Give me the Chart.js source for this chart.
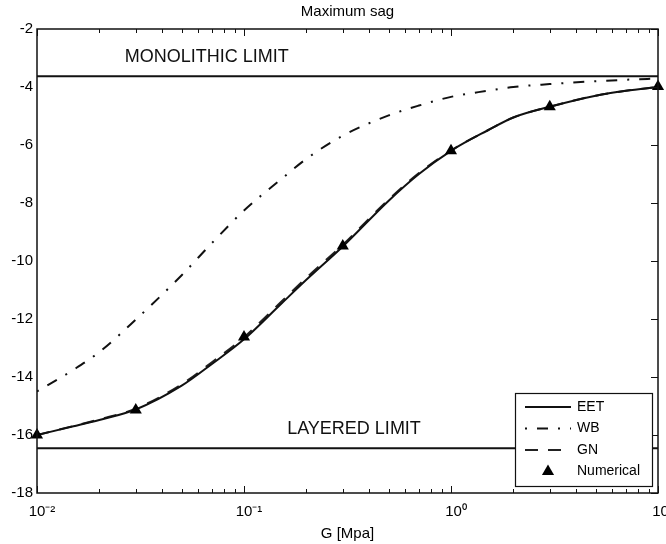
<!DOCTYPE html>
<html>
<head>
<meta charset="utf-8">
<title>Maximum sag</title>
<script src="https://cdn.jsdelivr.net/npm/chart.js@4.4.0/dist/chart.umd.min.js"></script>
<style>
  html, body { margin: 0; padding: 0; background: #fff; }
  #wrap { width: 666px; height: 544px; }
</style>
</head>
<body>
<div id="wrap"><canvas id="sagChart" width="666" height="544"></canvas></div>
<script>
// values
const gValues = [0.01, 0.015, 0.02, 0.03, 0.05, 0.07, 0.1, 0.15, 0.2, 0.3, 0.5, 0.7, 1, 1.5, 2, 3, 5, 7, 10];
const eetSag = [-16.0, -15.7, -15.48, -15.12, -14.3, -13.55, -12.7, -11.5, -10.65, -9.5, -7.92, -7.0, -6.2, -5.5, -5.05, -4.68, -4.3, -4.13, -4.0];
const gnSag = [-16.0, -15.69, -15.46, -15.09, -14.25, -13.49, -12.63, -11.43, -10.58, -9.44, -7.88, -6.97, -6.19, -5.5, -5.05, -4.68, -4.3, -4.13, -4.0];
const wbSag = [-14.5, -13.75, -13.14, -12.02, -10.49, -9.38, -8.26, -7.2, -6.48, -5.68, -4.98, -4.64, -4.34, -4.13, -4.0, -3.9, -3.8, -3.75, -3.71];
const numericalG = [0.01, 0.03, 0.1, 0.3, 1, 3, 10];
const numericalSag = [-16.0, -15.14, -12.62, -9.48, -6.2, -4.68, -3.98];
const monolithicLimit = -3.63;
const layeredLimit = -16.46;

const xTickValues = [0.01, 0.02, 0.03, 0.04, 0.05, 0.06, 0.07, 0.08, 0.09,
  0.1, 0.2, 0.3, 0.4, 0.5, 0.6, 0.7, 0.8, 0.9,
  1, 2, 3, 4, 5, 6, 7, 8, 9, 10];
const xMajorTicks = [0.01, 0.1, 1, 10];
const xTickLabels = ['10\u207B\u00B2', '10\u207B\u00B9', '10\u2070', '10\u00B9'];
const yTickValues = [-18, -16, -14, -12, -10, -8, -6, -4, -2];
const legendOrder = ['EET', 'WB', 'GN', 'Numerical'];

const FONT = "'Liberation Sans', Arial, Helvetica, sans-serif";
Chart.defaults.font.family = FONT;
Chart.defaults.color = '#000';

const toPoints = (xs, ys) => xs.map((g, i) => ({ x: g, y: ys[i] }));
const flatLine = (v) => [{ x: gValues[0], y: v }, { x: gValues[gValues.length - 1], y: v }];

// inward ticks, box, limit labels and the legend box (MATLAB look)
const framePlugin = {
  id: 'framePlugin',
  afterDatasetsDraw(chart) {
    const { ctx, scales: { x, y } } = chart;
    ctx.save();
    ctx.fillStyle = '#111';
    ctx.font = '18px ' + FONT;
    ctx.textAlign = 'center';
    ctx.textBaseline = 'middle';
    ctx.fillText('MONOLITHIC LIMIT', x.getPixelForValue(0.066), y.getPixelForValue(-2.98));
    ctx.fillText('LAYERED LIMIT', x.getPixelForValue(0.34), y.getPixelForValue(-15.8));
    ctx.restore();
  },
  afterDraw(chart) {
    const { ctx, chartArea: a, scales: { x, y } } = chart;
    ctx.save();
    ctx.strokeStyle = '#111';
    ctx.lineWidth = 1;
    const seg = (x1, y1, x2, y2) => { ctx.beginPath(); ctx.moveTo(x1, y1); ctx.lineTo(x2, y2); ctx.stroke(); };

    x.ticks.forEach(t => {
      const px = Math.round(x.getPixelForValue(t.value)) + 0.5;
      const len = xMajorTicks.includes(t.value) ? 7 : 4;
      seg(px, a.bottom, px, a.bottom - len);
      seg(px, a.top, px, a.top + len);
    });
    y.ticks.forEach(t => {
      const py = Math.round(y.getPixelForValue(t.value)) + 0.5;
      seg(a.right, py, a.right - 7, py);
    });

    ctx.lineWidth = 1.5;
    ctx.strokeRect(a.left, a.top, a.right - a.left, a.bottom - a.top);

    // legend
    const bw = 137, bh = 93;
    const bx = a.right - 6 - bw, by = a.bottom - 7 - bh;
    ctx.fillStyle = '#fff';
    ctx.fillRect(bx, by, bw, bh);
    ctx.lineWidth = 1.2;
    ctx.strokeRect(bx + 0.5, by + 0.5, bw, bh);

    ctx.font = '14px ' + FONT;
    ctx.textAlign = 'left';
    ctx.textBaseline = 'middle';
    legendOrder.forEach((label, i) => {
      const ds = chart.data.datasets.find(d => d.label === label);
      const ly = by + 14 + i * 21.5;
      const x1 = bx + 10, x2 = bx + 56;
      if (ds.showLine === false) {
        const cx = (x1 + x2) / 2, r = 7;
        ctx.fillStyle = '#000';
        ctx.beginPath();
        ctx.moveTo(cx, ly - r);
        ctx.lineTo(cx + r * 0.866, ly + r / 2);
        ctx.lineTo(cx - r * 0.866, ly + r / 2);
        ctx.closePath();
        ctx.fill();
      } else {
        ctx.strokeStyle = ds.borderColor;
        ctx.lineWidth = ds.borderWidth;
        ctx.setLineDash(ds.borderDash || []);
        seg(x1, ly, x2, ly);
        ctx.setLineDash([]);
      }
      ctx.fillStyle = '#000';
      ctx.fillText(label, bx + 62, ly);
    });
    ctx.restore();
  }
};

new Chart(document.getElementById('sagChart'), {
  type: 'line',
  data: {
    datasets: [
      {
        label: 'Numerical',
        data: toPoints(numericalG, numericalSag),
        showLine: false,
        pointStyle: 'triangle',
        pointRadius: 7,
        pointBackgroundColor: '#000',
        pointBorderColor: '#000',
        pointBorderWidth: 0,
        clip: false
      },
      {
        label: 'EET',
        data: toPoints(gValues, eetSag),
        borderColor: '#111',
        borderWidth: 2,
        pointRadius: 0,
        cubicInterpolationMode: 'monotone'
      },
      {
        label: 'GN',
        data: toPoints(gValues, gnSag),
        borderColor: '#222',
        borderWidth: 2,
        borderDash: [13, 10],
        pointRadius: 0,
        cubicInterpolationMode: 'monotone'
      },
      {
        label: 'WB',
        data: toPoints(gValues, wbSag),
        borderColor: '#111',
        borderWidth: 2,
        borderDash: [2, 10, 11, 10],
        pointRadius: 0,
        cubicInterpolationMode: 'monotone'
      },
      {
        label: 'monolithic',
        data: flatLine(monolithicLimit),
        borderColor: '#111',
        borderWidth: 2,
        pointRadius: 0
      },
      {
        label: 'layered',
        data: flatLine(layeredLimit),
        borderColor: '#111',
        borderWidth: 2,
        pointRadius: 0
      }
    ]
  },
  options: {
    responsive: false,
    animation: false,
    devicePixelRatio: 1,
    layout: { padding: { left: 0, right: 8, top: 0, bottom: 0 } },
    plugins: {
      legend: { display: false },
      tooltip: { enabled: false },
      title: {
        display: true,
        text: 'Maximum sag',
        fullSize: false,
        color: '#000',
        font: { size: 15, weight: 'normal' },
        padding: { top: 3, bottom: 8 }
      }
    },
    scales: {
      x: {
        type: 'logarithmic',
        min: 0.01,
        max: 10,
        grid: { display: false, drawTicks: false },
        border: { display: false },
        afterBuildTicks: (s) => { s.ticks = xTickValues.map(v => ({ value: v })); },
        afterFit: (s) => {
          s.height = 51;
          s.paddingLeft = 0;
          s.paddingRight = 0;
        },
        ticks: {
          autoSkip: false,
          maxRotation: 0,
          minRotation: 0,
          padding: 10,
          labelOffset: 5,
          color: '#000',
          font: { size: 15 },
          callback: (v) => {
            const i = xMajorTicks.indexOf(v);
            return i >= 0 ? xTickLabels[i] : '';
          }
        },
        title: {
          display: true,
          text: 'G [Mpa]',
          color: '#000',
          font: { size: 15 },
          padding: { top: 0, bottom: 1 }
        }
      },
      y: {
        type: 'linear',
        min: -18,
        max: -2,
        grid: { display: false, drawTicks: false },
        border: { display: false },
        afterBuildTicks: (s) => { s.ticks = yTickValues.map(v => ({ value: v })); },
        afterFit: (s) => {
          s.width = 37;
          s.paddingTop = 0;
          s.paddingBottom = 0;
        },
        ticks: {
          padding: 4,
          color: '#000',
          font: { size: 15 }
        }
      }
    }
  },
  plugins: [framePlugin]
});
</script>
</body>
</html>
